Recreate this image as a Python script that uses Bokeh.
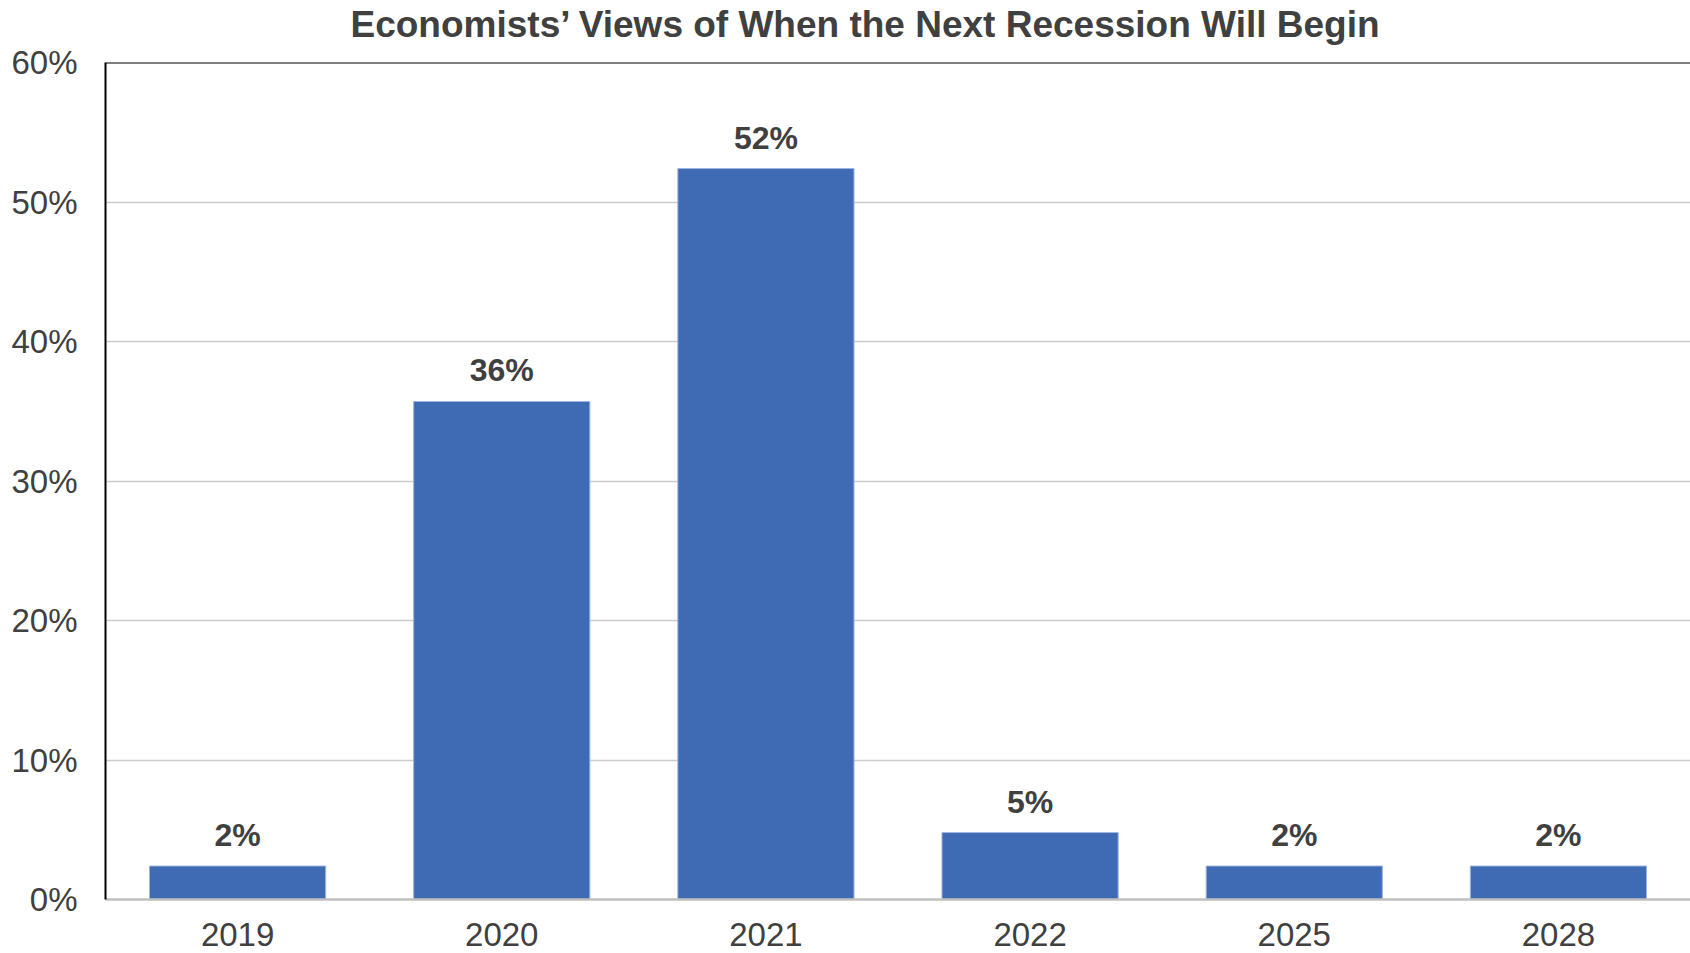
from bokeh.plotting import figure
from bokeh.models import Range1d, FactorRange, PrintfTickFormatter, Span, Title, ColumnDataSource, FixedTicker
from bokeh.embed import file_html
from bokeh.resources import INLINE
from bokeh.core.properties import value

# Data
years = ["2019", "2020", "2021", "2022", "2025", "2028"]
shares = [2.4, 35.7, 52.4, 4.8, 2.4, 2.4]
y_ticks = [0, 10, 20, 30, 40, 50, 60]
title_text = "Economists\u2019 Views of When the Next Recession Will Begin"

labels = [f"{round(v)}%" for v in shares]
src = ColumnDataSource(dict(x=years, top=shares, label=labels))

FONT = "Liberation Sans"
TXT = "#404040"

p = figure(width=1690, height=953, x_range=FactorRange(*years, range_padding=0),
           y_range=Range1d(0, 60), output_backend="svg", toolbar_location=None,
           min_border_left=105, min_border_right=0, min_border_top=62, min_border_bottom=54)
p.outline_line_color = None
p.background_fill_color = "white"
p.border_fill_color = "white"
p.title.visible = False

# spacer between frame and title, then the title itself
p.add_layout(Title(text=" ", text_font=FONT, text_font_size="12px", standoff=2), "above")
p.add_layout(Title(text=title_text, align="left", offset=245, text_font=FONT,
                   text_font_size="37px", text_font_style="bold", text_color=TXT,
                   standoff=0), "above")

p.vbar(x="x", top="top", width=0.667, source=src, fill_color="#3f6bb4",
       line_color="#9db6e0", line_width=1)

p.text(x="x", y="top", text="label", source=src, text_align="center",
       text_baseline="alphabetic", y_offset=-31, text_font=value(FONT),
       text_font_size="32px", text_font_style="bold", text_color=TXT)

# top border
p.add_layout(Span(location=60, dimension="width", line_color="black", line_width=2))

p.xgrid.grid_line_color = None
p.ygrid.grid_line_color = "#cccccc"
p.ygrid.grid_line_width = 1.5
p.ygrid.ticker = FixedTicker(ticks=y_ticks)

p.yaxis.ticker = FixedTicker(ticks=y_ticks)
p.yaxis.formatter = PrintfTickFormatter(format="%d%%")
p.yaxis.axis_line_color = "black"
p.yaxis.axis_line_width = 2
p.yaxis.major_tick_line_color = None
p.yaxis.minor_tick_line_color = None
p.yaxis.major_label_standoff = 22
p.yaxis.major_label_text_font = FONT
p.yaxis.major_label_text_font_size = "33px"
p.yaxis.major_label_text_color = TXT

p.xaxis.axis_line_color = "#bfbfbf"
p.xaxis.axis_line_width = 2.5
p.xaxis.major_tick_line_color = None
p.xaxis.minor_tick_line_color = None
p.xaxis.major_label_standoff = 17
p.xaxis.major_label_text_font = FONT
p.xaxis.major_label_text_font_size = "33px"
p.xaxis.major_label_text_color = TXT

open("out.html", "w").write(file_html(p, INLINE))
